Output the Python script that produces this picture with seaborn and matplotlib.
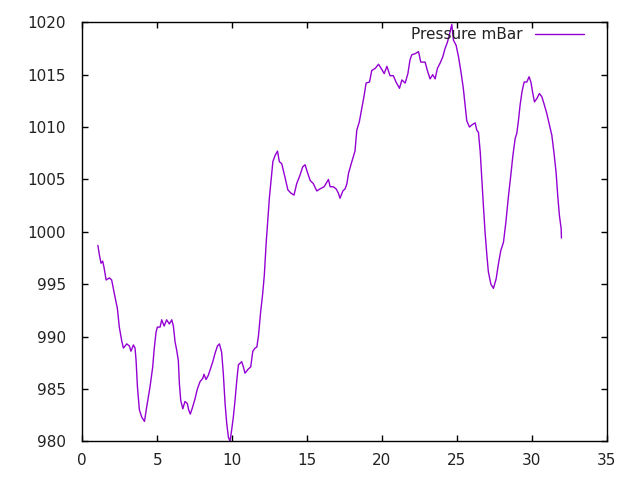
import matplotlib
matplotlib.use("Agg")
import matplotlib.pyplot as plt
import seaborn as sns
import pandas as pd

time_days = [
    1.04, 1.14, 1.25, 1.36, 1.45, 1.59, 1.81, 1.96, 2.18, 2.34, 2.47, 2.63, 2.74, 2.97,
    3.14, 3.25, 3.41, 3.52, 3.59, 3.68, 3.81, 3.97, 4.15, 4.30, 4.52, 4.70, 4.79, 4.92,
    5.01, 5.19, 5.30, 5.46, 5.63, 5.81, 5.97, 6.08, 6.19, 6.30, 6.41, 6.48, 6.57, 6.71,
    6.85, 7.01, 7.10, 7.21, 7.37, 7.53, 7.68, 7.86, 8.04, 8.12, 8.26, 8.41, 8.57, 8.71,
    8.86, 9.02, 9.15, 9.30, 9.41, 9.53, 9.64, 9.75, 9.86, 9.97, 10.08, 10.20, 10.31,
    10.42, 10.64, 10.75, 10.86, 11.08, 11.24, 11.38, 11.53, 11.65, 11.76, 11.90, 12.04,
    12.15, 12.27, 12.38, 12.49, 12.60, 12.72, 12.87, 13.03, 13.15, 13.31, 13.53, 13.72,
    13.92, 14.13, 14.31, 14.53, 14.71, 14.87, 15.02, 15.21, 15.42, 15.65, 15.87, 16.14,
    16.43, 16.54, 16.75, 16.94, 17.09, 17.20, 17.39, 17.54, 17.66, 17.77, 17.99, 18.20,
    18.32, 18.49, 18.66, 18.81, 18.94, 19.17, 19.32, 19.55, 19.77, 19.99, 20.15, 20.33,
    20.54, 20.76, 20.94, 21.17, 21.33, 21.55, 21.73, 21.87, 21.99, 22.21, 22.44, 22.59,
    22.88, 23.03, 23.21, 23.39, 23.55, 23.70, 23.88, 24.06, 24.21, 24.37, 24.50, 24.66,
    24.77, 24.95, 25.11, 25.27, 25.43, 25.55, 25.66, 25.84, 26.00, 26.22, 26.33, 26.44,
    26.56, 26.66, 26.77, 26.88, 27.00, 27.10, 27.27, 27.44, 27.62, 27.78, 27.93, 28.11,
    28.27, 28.45, 28.60, 28.74, 28.89, 29.00, 29.10, 29.22, 29.35, 29.49, 29.67, 29.82,
    29.94, 30.07, 30.18, 30.33, 30.51, 30.67, 30.82, 31.00, 31.18, 31.34, 31.50, 31.62,
    31.73, 31.84, 31.96, 31.98,
]

pressure_mbar = [
    998.7, 997.8, 997.0, 997.2, 996.6, 995.4, 995.6, 995.4, 993.8, 992.7, 990.9, 989.6, 988.9, 989.3,
    989.1, 988.6, 989.2, 988.9, 987.7, 985.2, 983.0, 982.3, 981.9, 983.3, 985.2, 987.1, 988.7, 990.4,
    990.9, 990.9, 991.6, 991.0, 991.6, 991.2, 991.6, 991.0, 989.5, 988.7, 987.7, 985.5, 983.9, 983.1,
    983.8, 983.6, 983.0, 982.6, 983.3, 984.1, 985.0, 985.7, 986.0, 986.4, 985.9, 986.3, 987.0, 987.6,
    988.4, 989.1, 989.3, 988.5, 986.5, 983.6, 981.7, 980.4, 980.0, 981.1, 982.3, 984.0, 985.8,
    987.3, 987.6, 987.1, 986.5, 986.9, 987.1, 988.6, 988.9, 989.0, 990.1, 992.3, 994.1,
    995.9, 998.9, 1001.1, 1003.3, 1004.9, 1006.7, 1007.3, 1007.7, 1006.7, 1006.5, 1005.2, 1004.0,
    1003.7, 1003.5, 1004.6, 1005.4, 1006.2, 1006.4, 1005.7, 1004.9, 1004.6, 1003.9, 1004.1, 1004.3,
    1005.0, 1004.3, 1004.3, 1004.1, 1003.7, 1003.2, 1003.9, 1004.1, 1004.6, 1005.6, 1006.7, 1007.7,
    1009.7, 1010.5, 1011.8, 1013.0, 1014.2, 1014.3, 1015.4, 1015.6, 1016.0, 1015.5, 1015.1, 1015.8,
    1014.9, 1014.9, 1014.3, 1013.7, 1014.5, 1014.2, 1015.1, 1016.4, 1016.9, 1017.0, 1017.2, 1016.2,
    1016.2, 1015.4, 1014.6, 1015.0, 1014.6, 1015.6, 1016.1, 1016.7, 1017.5, 1018.1, 1018.8, 1019.8,
    1018.3, 1017.8, 1016.7, 1015.3, 1013.7, 1012.1, 1010.6, 1010.0, 1010.2, 1010.4, 1009.7, 1009.5,
    1007.6, 1005.1, 1002.5, 1000.0, 997.8, 996.2, 995.0, 994.6, 995.5, 997.0, 998.2, 999.0,
    1000.9, 1003.5, 1005.4, 1007.3, 1008.9, 1009.4, 1010.5, 1012.1, 1013.4, 1014.3, 1014.3, 1014.8,
    1014.3, 1013.2, 1012.4, 1012.7, 1013.2, 1012.9, 1012.2, 1011.3, 1010.2, 1009.2, 1007.3, 1005.7,
    1003.5, 1001.6, 1000.3, 999.4,
]

series_label = "Pressure mBar"
x_ticks = [0, 5, 10, 15, 20, 25, 30, 35]
y_ticks = [980, 985, 990, 995, 1000, 1005, 1010, 1015, 1020]

df = pd.DataFrame({"t": time_days, "p": pressure_mbar})

sns.set_style("white")
plt.rcParams["font.family"] = ["DejaVu Sans"]

fig = plt.figure(figsize=(6.4, 4.8), dpi=100)
ax = fig.add_axes([82.3 / 640, 1 - 441.3 / 480, (606.7 - 82.3) / 640, (441.3 - 22.3) / 480])

sns.lineplot(data=df, x="t", y="p", ax=ax, color="#9400D3", linewidth=1.0,
             estimator=None, sort=False, label=series_label)

ax.set_xlim(0, 35)
ax.set_ylim(980, 1020)
ax.set_xticks(x_ticks)
ax.set_yticks(y_ticks)
ax.set_xlabel("")
ax.set_ylabel("")

for s in ax.spines.values():
    s.set_visible(True)
    s.set_color("black")
    s.set_linewidth(1.0)

ax.tick_params(axis="both", which="major", direction="in", length=4.3, width=1.0,
               color="black", labelsize=11, labelcolor="#222222",
               top=True, right=True, bottom=True, left=True)
ax.tick_params(axis="x", pad=8.5)
ax.tick_params(axis="y", pad=12)

leg = ax.legend(loc="upper right", bbox_to_anchor=(0.957, 0.988), frameon=False,
                markerfirst=False, fontsize=11, handlelength=3.2, handletextpad=0.85,
                borderpad=0, borderaxespad=0)
for t in leg.get_texts():
    t.set_color("#222222")

fig.savefig("out.png", dpi=100)
